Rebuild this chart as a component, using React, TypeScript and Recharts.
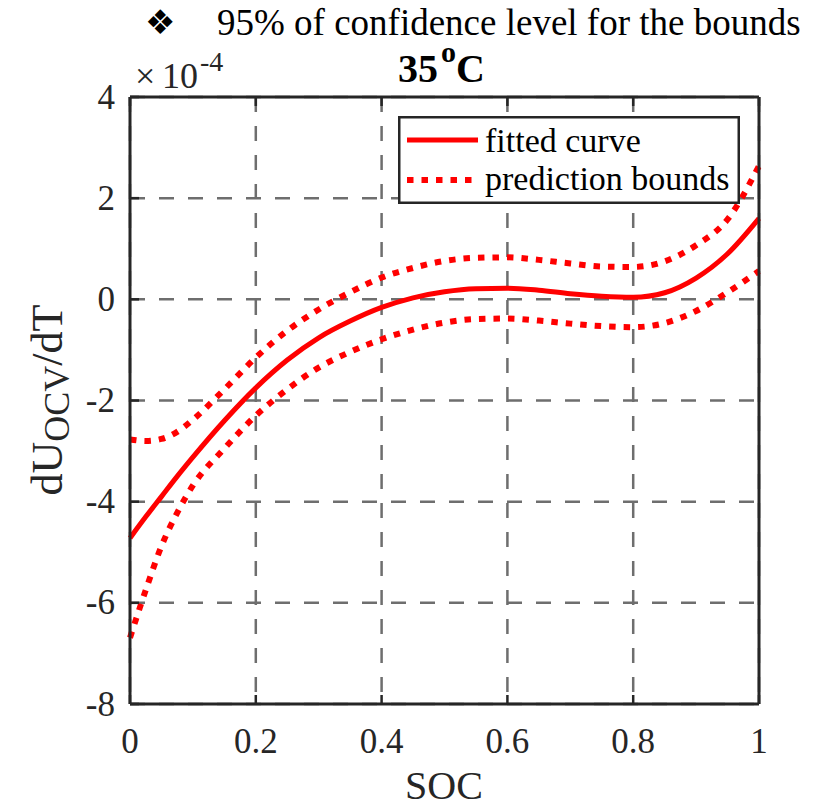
import React from "react";
import {
  LineChart,
  Line,
  XAxis,
  YAxis,
  CartesianGrid,
  Legend,
} from "recharts";

// SOC grid and dU_OCV/dT values (in units of 1e-4)
const soc = [0, 0.025, 0.05, 0.075, 0.1, 0.15, 0.2, 0.25, 0.3, 0.35, 0.4, 0.45, 0.5, 0.55, 0.6, 0.65, 0.7, 0.75, 0.8, 0.85, 0.9, 0.95, 1.0];
const fitted = [-4.72, -4.3, -3.9, -3.5, -3.12, -2.4, -1.75, -1.2, -0.76, -0.43, -0.16, 0.03, 0.15, 0.21, 0.22, 0.18, 0.11, 0.06, 0.04, 0.13, 0.42, 0.9, 1.6];
const upper = [-2.77, -2.8, -2.76, -2.62, -2.38, -1.78, -1.15, -0.62, -0.2, 0.14, 0.43, 0.62, 0.76, 0.82, 0.83, 0.78, 0.71, 0.65, 0.64, 0.75, 1.07, 1.58, 2.64];
const lower = [-6.69, -5.75, -4.88, -4.22, -3.68, -2.95, -2.3, -1.78, -1.35, -1.04, -0.79, -0.6, -0.46, -0.39, -0.38, -0.42, -0.48, -0.53, -0.55, -0.47, -0.23, 0.14, 0.56];

const xTicks = [0, 0.2, 0.4, 0.6, 0.8, 1];
const yTicks = [-8, -6, -4, -2, 0, 2, 4];

const data = soc.map((s, i) => ({
  soc: s,
  fitted: fitted[i],
  upper: upper[i],
  lower: lower[i],
}));

const SERIF = "Liberation Serif, Times New Roman, serif";
const AXIS = "#262626";
const RED = "#ff0000";
const TICK_LEN = 9;

const BottomTick = (props: any) => {
  const { x, y, payload } = props;
  return (
    <g>
      <line x1={x} y1={y} x2={x} y2={y - TICK_LEN} stroke={AXIS} strokeWidth={2.5} />
      <text x={x} y={y + 49} textAnchor="middle" fontSize={35} fontFamily={SERIF} fill={AXIS}>
        {payload.value}
      </text>
    </g>
  );
};

const TopTick = (props: any) => {
  const { x, y } = props;
  return <line x1={x} y1={y} x2={x} y2={y + TICK_LEN} stroke={AXIS} strokeWidth={2.5} />;
};

const LeftTick = (props: any) => {
  const { x, y, payload } = props;
  return (
    <g>
      <line x1={x} y1={y} x2={x + TICK_LEN} y2={y} stroke={AXIS} strokeWidth={2.5} />
      <text x={x - 15} y={y + 11.5} textAnchor="end" fontSize={35} fontFamily={SERIF} fill={AXIS}>
        {payload.value}
      </text>
    </g>
  );
};

const RightTick = (props: any) => {
  const { x, y } = props;
  return <line x1={x} y1={y} x2={x - TICK_LEN} y2={y} stroke={AXIS} strokeWidth={2.5} />;
};

const LegendBox = () => (
  <svg width={342} height={88} style={{ display: "block" }}>
    <rect x={1.25} y={1.25} width={339.5} height={85.5} fill="#fff" stroke={AXIS} strokeWidth={2.5} />
    <line x1={9} y1={24} x2={80} y2={24} stroke={RED} strokeWidth={5} />
    <text x={87} y={36} fontSize={34} fontFamily={SERIF} fill="#000">
      fitted curve
    </text>
    <line x1={9} y1={64} x2={76} y2={64} stroke={RED} strokeWidth={6} strokeDasharray="6.5 8" />
    <text x={87} y={74} fontSize={34} fontFamily={SERIF} fill="#000">
      prediction bounds
    </text>
  </svg>
);

export default function App() {
  return (
    <div style={{ position: "absolute", left: 0, top: 0, width: 817, height: 805, background: "#fff" }}>
      <LineChart
        width={817}
        height={805}
        data={data}
        margin={{ top: 77, right: 38, bottom: 41, left: 70 }}
      >
        <CartesianGrid
          stroke="#6e6e6e"
          strokeWidth={2.5}
          strokeDasharray="15 14"
          verticalValues={xTicks}
          horizontalValues={yTicks}
        />
        <XAxis
          dataKey="soc"
          type="number"
          domain={[0, 1]}
          ticks={xTicks}
          height={60}
          tickSize={0}
          tickMargin={0}
          tickLine={false}
          axisLine={{ stroke: AXIS, strokeWidth: 3 }}
          tick={<BottomTick />}
          interval={0}
        />
        <XAxis
          xAxisId="top"
          orientation="top"
          dataKey="soc"
          type="number"
          domain={[0, 1]}
          ticks={xTicks}
          height={20}
          tickSize={0}
          tickMargin={0}
          tickLine={false}
          axisLine={{ stroke: AXIS, strokeWidth: 3 }}
          tick={<TopTick />}
          interval={0}
        />
        <YAxis
          type="number"
          domain={[-8, 4]}
          ticks={yTicks}
          width={60}
          tickSize={0}
          tickMargin={0}
          tickLine={false}
          axisLine={{ stroke: AXIS, strokeWidth: 3 }}
          tick={<LeftTick />}
          interval={0}
          allowDataOverflow
        />
        <YAxis
          yAxisId="right"
          orientation="right"
          type="number"
          domain={[-8, 4]}
          ticks={yTicks}
          width={20}
          tickSize={0}
          tickMargin={0}
          tickLine={false}
          axisLine={{ stroke: AXIS, strokeWidth: 3 }}
          tick={<RightTick />}
          interval={0}
        />
        <Line
          type="monotone"
          dataKey="upper"
          stroke={RED}
          strokeWidth={6}
          strokeDasharray="6.5 8"
          dot={false}
          activeDot={false}
          isAnimationActive={false}
        />
        <Line
          type="monotone"
          dataKey="lower"
          stroke={RED}
          strokeWidth={6}
          strokeDasharray="6.5 8"
          dot={false}
          activeDot={false}
          isAnimationActive={false}
        />
        <Line
          type="monotone"
          dataKey="fitted"
          stroke={RED}
          strokeWidth={5}
          dot={false}
          activeDot={false}
          isAnimationActive={false}
        />
        <Legend
          layout="horizontal"
          align="center"
          verticalAlign="middle"
          wrapperStyle={{ left: 398, top: 116, width: 342, height: 88 }}
          content={() => <LegendBox />}
        />
      </LineChart>
      <svg
        width={817}
        height={805}
        style={{ position: "absolute", left: 0, top: 0, pointerEvents: "none" }}
      >
        <text x={145} y={34} fontSize={34} fontFamily="DejaVu Sans, sans-serif" fill="#000">
          ❖
        </text>
        <text x={217} y={35} fontSize={37} fontFamily={SERIF} fill="#000">
          95% of confidence level for the bounds
        </text>
        <text fontFamily={SERIF} fontWeight="bold" fill="#000">
          <tspan x={398} y={82} fontSize={40}>35</tspan>
          <tspan x={441} y={62} fontSize={30}>o</tspan>
          <tspan x={456} y={82} fontSize={40}>C</tspan>
        </text>
        <text fontFamily={SERIF} fill={AXIS}>
          <tspan x={135} y={88} fontSize={36}>×</tspan>
          <tspan x={162} y={88} fontSize={36}>10</tspan>
          <tspan x={200} y={71} fontSize={28}>-4</tspan>
        </text>
        <text
          x={62}
          y={400}
          transform="rotate(-90, 62, 400)"
          textAnchor="middle"
          fontSize={44}
          fontFamily={SERIF}
          fill={AXIS}
        >
          <tspan>dU</tspan>
          <tspan fontSize={36} dy={7}>OCV</tspan>
          <tspan dy={-7}>/dT</tspan>
        </text>
        <text x={444} y={799} textAnchor="middle" fontSize={40} fontFamily={SERIF} fill={AXIS}>
          SOC
        </text>
      </svg>
    </div>
  );
}
